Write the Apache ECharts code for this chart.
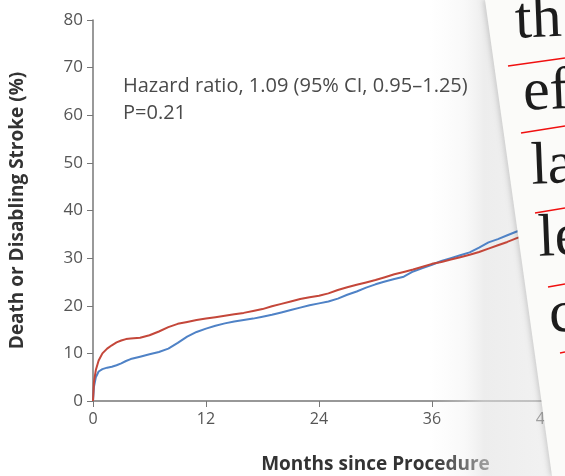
<!DOCTYPE html>
<html>
<head>
<meta charset="utf-8">
<script src="https://cdn.jsdelivr.net/npm/echarts@6/dist/echarts.min.js"></script>
<style>
	html, body { margin: 0; padding: 0; background: #fff; }
	#chart { width: 565px; height: 476px; }
</style>
</head>
<body>
<div id="chart"></div>
<script>
// months since procedure
const months = [0, 0.1, 0.3, 0.6, 1, 1.5, 2, 2.5, 3, 3.5, 4, 5, 6, 7, 8, 9, 10, 11, 12, 13, 14, 15, 16, 17, 18, 19, 20,
	21, 22, 23, 24, 25, 26, 27, 28, 29, 30, 31, 32, 33, 34, 35, 36, 37, 38, 39, 40, 41, 42, 43, 44, 45, 46];
// red curve (%)
const redCurve = [0, 4, 6.5, 8.5, 10, 11, 11.7, 12.3, 12.7, 13, 13.1, 13.3, 13.8, 14.6, 15.5, 16.2, 16.6, 17, 17.3, 17.6,
	17.9, 18.2, 18.5, 18.9, 19.3, 19.9, 20.4, 20.9, 21.4, 21.8, 22.1, 22.6, 23.3, 23.9, 24.4, 24.9, 25.4, 26, 26.6, 27.1,
	27.6, 28.2, 28.8, 29.2, 29.7, 30.2, 30.7, 31.3, 32, 32.7, 33.4, 34.2, 34.9];
// blue curve (%)
const blueCurve = [0, 3, 5, 6.2, 6.7, 7, 7.2, 7.5, 7.9, 8.4, 8.8, 9.3, 9.8, 10.3, 11, 12.2, 13.5, 14.5, 15.2, 15.8,
	16.3, 16.7, 17, 17.3, 17.7, 18.1, 18.6, 19.1, 19.6, 20.1, 20.5, 20.9, 21.5, 22.3, 23, 23.8, 24.5, 25.1, 25.6, 26.1,
	27.2, 27.9, 28.6, 29.4, 30, 30.6, 31.2, 32.2, 33.3, 34, 34.8, 35.6, 36.3];
const xTicks = [0, 12, 24, 36, 48, 60];
const yTicks = [0, 10, 20, 30, 40, 50, 60, 70, 80];

const noteLines = ['Hazard ratio, 1.09 (95% CI, 0.95\u20131.25)', 'P=0.21'];
const paperWords = ['th', 'ef', 'la', 'le', 'c'];

function pairs(xs, ys) {
	return xs.map((x, i) => [x, ys[i]]);
}

let myChart = echarts.init(document.getElementById('chart'));

const font = '"Open Sans", "DejaVu Sans", sans-serif';

// the overlapping page on the right
const paper = [{
	type: 'rect',
	z: 1,
	silent: true,
	shape: { x: 430, y: 0, width: 135, height: 476 },
	style: {
		fill: new echarts.graphic.LinearGradient(0, 0, 1, 0, [
			{ offset: 0, color: 'rgba(235,235,235,0)' },
			{ offset: 0.25, color: 'rgba(235,235,235,0.3)' },
			{ offset: 0.4, color: 'rgba(225,225,225,0.6)' },
			{ offset: 1, color: 'rgba(230,230,230,0.5)' }
		])
	}
}, {
	type: 'polygon',
	z: 60,
	silent: true,
	shape: { points: [[485, 0], [565, 0], [565, 476], [552, 476]] },
	style: {
		fill: '#fbfbf9',
		shadowBlur: 5,
		shadowColor: 'rgba(0,0,0,0.15)',
		shadowOffsetX: -2
	}
}];
const wordPos = [[515, 22], [523, 94], [531, 168], [538, 240], [549, 316]];
paperWords.forEach((w, i) => {
	paper.push({
		type: 'text',
		z: 70,
		silent: true,
		x: wordPos[i][0],
		y: wordPos[i][1],
		rotation: 0.04,
		style: {
			text: w,
			fontSize: 60,
			fontFamily: '"Liberation Serif", "DejaVu Serif", serif',
			fill: '#1c1c1c',
			verticalAlign: 'middle'
		}
	});
});
const redMarks = [[508, 66, 565, 58], [521, 133, 565, 126], [535, 213, 565, 208], [548, 287, 565, 284], [560, 353, 565, 352]];
redMarks.forEach(m => {
	paper.push({
		type: 'line',
		z: 71,
		silent: true,
		shape: { x1: m[0], y1: m[1], x2: m[2], y2: m[3] },
		style: { stroke: '#f01010', lineWidth: 1.5 }
	});
});

option = {
	backgroundColor: '#fff',
	animation: false,
	textStyle: { fontFamily: font },
	grid: {
		left: 93,
		top: 20,
		width: 565,
		height: 381,
		outerBoundsMode: 'none'
	},
	graphic: [{
		type: 'text',
		z: 10,
		left: 123,
		top: 73,
		style: {
			text: noteLines.join('\n'),
			fontSize: 20,
			fontFamily: font,
			fill: '#4a4a4a',
			lineHeight: 27
		}
	}].concat(paper),
	xAxis: {
		type: 'value',
		min: 0,
		max: 60,
		interval: 12,
		name: 'Months since Procedure',
		nameLocation: 'middle',
		nameGap: 54,
		nameTextStyle: { fontSize: 19, fontWeight: 'bold', color: '#333' },
		axisLine: { lineStyle: { color: '#777', width: 1.5 } },
		axisTick: { length: 6, lineStyle: { color: '#777' } },
		axisLabel: {
			fontSize: 16,
			color: '#555',
			margin: 10,
			formatter: v => xTicks.indexOf(v) >= 0 ? String(v) : ''
		},
		splitLine: { show: false }
	},
	yAxis: {
		type: 'value',
		min: 0,
		max: 80,
		interval: 10,
		name: 'Death or Disabling Stroke (%)',
		nameLocation: 'middle',
		nameGap: 66,
		nameTextStyle: { fontSize: 19, fontWeight: 'bold', color: '#333' },
		axisLine: { show: true, lineStyle: { color: '#777', width: 1.5 } },
		axisTick: { show: true, length: 6, lineStyle: { color: '#777' } },
		axisLabel: {
			fontSize: 17,
			color: '#555',
			margin: 10,
			formatter: v => yTicks.indexOf(v) >= 0 ? String(v) : ''
		},
		splitLine: { show: false }
	},
	series: [{
		name: 'red',
		type: 'line',
		showSymbol: false,
		data: pairs(months, redCurve),
		lineStyle: { color: '#c4473a', width: 2 },
		itemStyle: { color: '#c4473a' },
		z: 3
	}, {
		name: 'blue',
		type: 'line',
		showSymbol: false,
		data: pairs(months, blueCurve),
		lineStyle: { color: '#4f82c6', width: 2 },
		itemStyle: { color: '#4f82c6' },
		z: 2
	}]
};

myChart.setOption(option);
window.addEventListener('resize', function() {
	myChart.resize();
})
</script>
</body>
</html>
